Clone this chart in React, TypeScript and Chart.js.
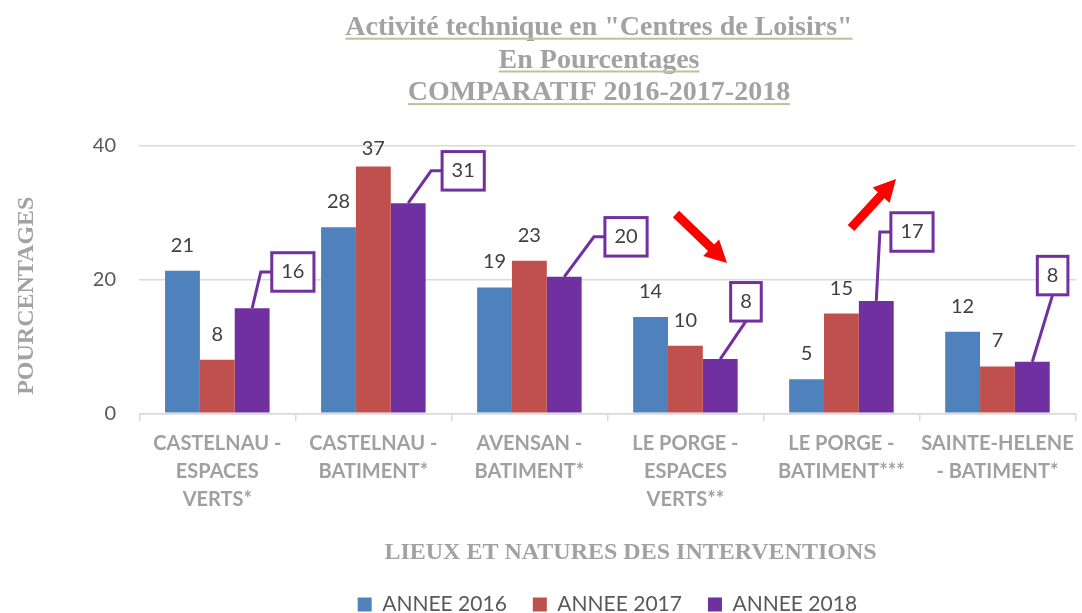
import React, { useEffect, useRef } from "react";
import { Chart, registerables } from "chart.js";

Chart.register(...registerables);

// ---------- data ----------
const categories: string[][] = [
  ["CASTELNAU -", "ESPACES", "VERTS*"],
  ["CASTELNAU -", "BATIMENT*"],
  ["AVENSAN -", "BATIMENT*"],
  ["LE PORGE -", "ESPACES", "VERTS**"],
  ["LE PORGE -", "BATIMENT***"],
  ["SAINTE-HELENE", "- BATIMENT*"],
];
const seriesNames = ["ANNEE 2016", "ANNEE 2017", "ANNEE 2018"];
const values2016 = [21.3, 27.8, 18.8, 14.4, 5.1, 12.2];
const values2017 = [8.0, 36.9, 22.8, 10.1, 14.9, 7.0];
const values2018 = [15.7, 31.4, 20.4, 8.1, 16.8, 7.7];
const yMin = 0;
const yMax = 40;
const yStep = 20;
const titleLines = [
  'Activité technique en "Centres de Loisirs"',
  "En Pourcentages",
  "COMPARATIF 2016-2017-2018",
];
const yTitle = "POURCENTAGES";
const xTitle = "LIEUX ET NATURES DES INTERVENTIONS";

// ---------- styles / layout ----------
const COLORS = ["#4f81bd", "#c0504d", "#7030a0"];
const LABEL_FONT = '20px Lato';
const SERIF = '"Liberation Serif", "DejaVu Serif", serif';
const GRAY_TITLE = "#a2a2a2";
// callout boxes of the 2018 series: offset of the box centre from the bar top
const calloutLayout = [
  { dx: 40.7, dy: -36.3, mode: "side" },
  { dx: 55, dy: -32.4, mode: "side" },
  { dx: 61.8, dy: -40, mode: "side" },
  { dx: 25.7, dy: -57.3, mode: "below" },
  { dx: 35.7, dy: -68.9, mode: "side" },
  { dx: 20.3, dy: -86.2, mode: "below" },
];
const arrows = [
  { x1: 676, y1: 214, x2: 727, y2: 263 },
  { x1: 851, y1: 228, x2: 896, y2: 179 },
];

function drawArrow(ctx: CanvasRenderingContext2D, a: any) {
  const shaft = 9, headW = 23, headL = 22;
  const ang = Math.atan2(a.y2 - a.y1, a.x2 - a.x1);
  const len = Math.hypot(a.x2 - a.x1, a.y2 - a.y1);
  ctx.save();
  ctx.translate(a.x1, a.y1);
  ctx.rotate(ang);
  ctx.fillStyle = "#ff0000";
  ctx.beginPath();
  ctx.moveTo(0, -shaft / 2);
  ctx.lineTo(len - headL, -shaft / 2);
  ctx.lineTo(len - headL, -headW / 2);
  ctx.lineTo(len, 0);
  ctx.lineTo(len - headL, headW / 2);
  ctx.lineTo(len - headL, shaft / 2);
  ctx.lineTo(0, shaft / 2);
  ctx.closePath();
  ctx.fill();
  ctx.restore();
}

const annotatePlugin = {
  id: "annotate",
  afterDatasetsDraw(chart: any) {
    const ctx: CanvasRenderingContext2D = chart.ctx;
    const area = chart.chartArea;
    ctx.save();
    ctx.font = LABEL_FONT;
    ctx.textAlign = "center";
    ctx.textBaseline = "middle";
    // plain value labels (2016, 2017)
    [0, 1].forEach((di) => {
      const meta = chart.getDatasetMeta(di);
      meta.data.forEach((bar: any, i: number) => {
        const v = chart.data.datasets[di].data[i] as number;
        const y = Math.max(bar.y - 25.5, area.top + 2.6);
        ctx.fillStyle = "#404040";
        ctx.fillText(String(Math.round(v)), bar.x, y);
      });
    });
    // callouts (2018)
    const meta = chart.getDatasetMeta(2);
    meta.data.forEach((bar: any, i: number) => {
      const v = chart.data.datasets[2].data[i] as number;
      const text = String(Math.round(v));
      const L = calloutLayout[i];
      const cx = bar.x + L.dx;
      const cy = bar.y + L.dy;
      const w = ctx.measureText(text).width + 19;
      const h = 38.5;
      const left = cx - w / 2;
      const top = cy - h / 2;
      ctx.strokeStyle = COLORS[2];
      ctx.lineWidth = 3;
      ctx.lineJoin = "miter";
      ctx.beginPath();
      ctx.moveTo(bar.x, bar.y);
      if (L.mode === "side") {
        ctx.lineTo(left - 11, cy);
        ctx.lineTo(left, cy);
      } else {
        ctx.lineTo(cx, top + h);
      }
      ctx.stroke();
      ctx.fillStyle = "#ffffff";
      ctx.fillRect(left, top, w, h);
      ctx.strokeRect(left, top, w, h);
      ctx.fillStyle = "#404040";
      ctx.fillText(text, cx, cy);
    });
    arrows.forEach((a) => drawArrow(ctx, a));
    ctx.restore();
  },
  afterDraw(chart: any) {
    const ctx: CanvasRenderingContext2D = chart.ctx;
    ctx.save();
    // main title with underline
    ctx.font = `bold 28px ${SERIF}`;
    ctx.textAlign = "center";
    ctx.textBaseline = "alphabetic";
    const baselines = [35, 67.8, 100.4];
    titleLines.forEach((line, i) => {
      const cx = 599;
      ctx.fillStyle = GRAY_TITLE;
      ctx.fillText(line, cx, baselines[i]);
      const w = ctx.measureText(line).width;
      ctx.fillStyle = "#c4bd97";
      ctx.fillRect(cx - w / 2, baselines[i] + 2.7, w, 2);
    });
    // x axis title
    ctx.font = `bold 24px ${SERIF}`;
    ctx.fillStyle = GRAY_TITLE;
    ctx.fillText(xTitle, 630.5, 559.3);
    // y axis title
    ctx.font = `bold 24px ${SERIF}`;
    ctx.translate(33.3, 295.7);
    ctx.rotate(-Math.PI / 2);
    ctx.fillText(yTitle, 0, 0);
    ctx.restore();
  },
};

export default function App() {
  const ref = useRef<HTMLCanvasElement | null>(null);
  useEffect(() => {
    document.body.style.margin = "0";
    document.body.style.overflow = "hidden";
    const canvas = ref.current!;
    const chart = new Chart(canvas, {
      type: "bar",
      data: {
        labels: categories,
        datasets: [
          { label: seriesNames[0], data: values2016, backgroundColor: COLORS[0] },
          { label: seriesNames[1], data: values2017, backgroundColor: COLORS[1] },
          { label: seriesNames[2], data: values2018, backgroundColor: COLORS[2] },
        ].map((d) => ({ ...d, categoryPercentage: 0.67, barPercentage: 1.0, borderWidth: 0 })),
      },
      options: {
        animation: false,
        responsive: false,
        devicePixelRatio: 1,
        layout: { padding: { top: 145.7, left: 0, right: 3, bottom: 0 } },
        plugins: {
          title: { display: false },
          tooltip: { enabled: false },
          legend: {
            position: "bottom",
            fullSize: false,
            labels: {
              boxWidth: 14,
              boxHeight: 14,
              padding: 26,
              color: "#595959",
              font: { family: "Lato", size: 21 },
            },
          },
        },
        scales: {
          x: {
            grid: {
              display: true,
              offset: true,
              drawOnChartArea: false,
              drawTicks: true,
              tickLength: 8,
              color: "#d9d9d9",
              lineWidth: 1.5,
            },
            border: { display: true, color: "#d9d9d9", width: 1.5 },
            ticks: {
              autoSkip: false,
              maxRotation: 0,
              minRotation: 0,
              padding: 8,
              color: "#a0a0a0",
              font: { family: "Lato", size: 20, weight: "bold", lineHeight: 1.4 },
            },
            afterFit: (s: any) => {
              s.height = 154.7;
            },
          },
          y: {
            min: yMin,
            max: yMax,
            ticks: {
              stepSize: yStep,
              padding: 23.3,
              color: "#595959",
              font: { family: "Lato", size: 20 },
            },
            grid: { color: "#d9d9d9", lineWidth: 1.5, drawTicks: false },
            border: { display: false },
            afterFit: (s: any) => {
              s.width = 139.3;
            },
          },
        },
      },
      plugins: [annotatePlugin],
    } as any);
    return () => chart.destroy();
  }, []);
  return (
    <div style={{ width: 1082, height: 613, overflow: "hidden", position: "relative", background: "#ffffff" }}>
      <canvas ref={ref} width={1082} height={625} style={{ display: "block", width: 1082, height: 625 }} />
    </div>
  );
}
